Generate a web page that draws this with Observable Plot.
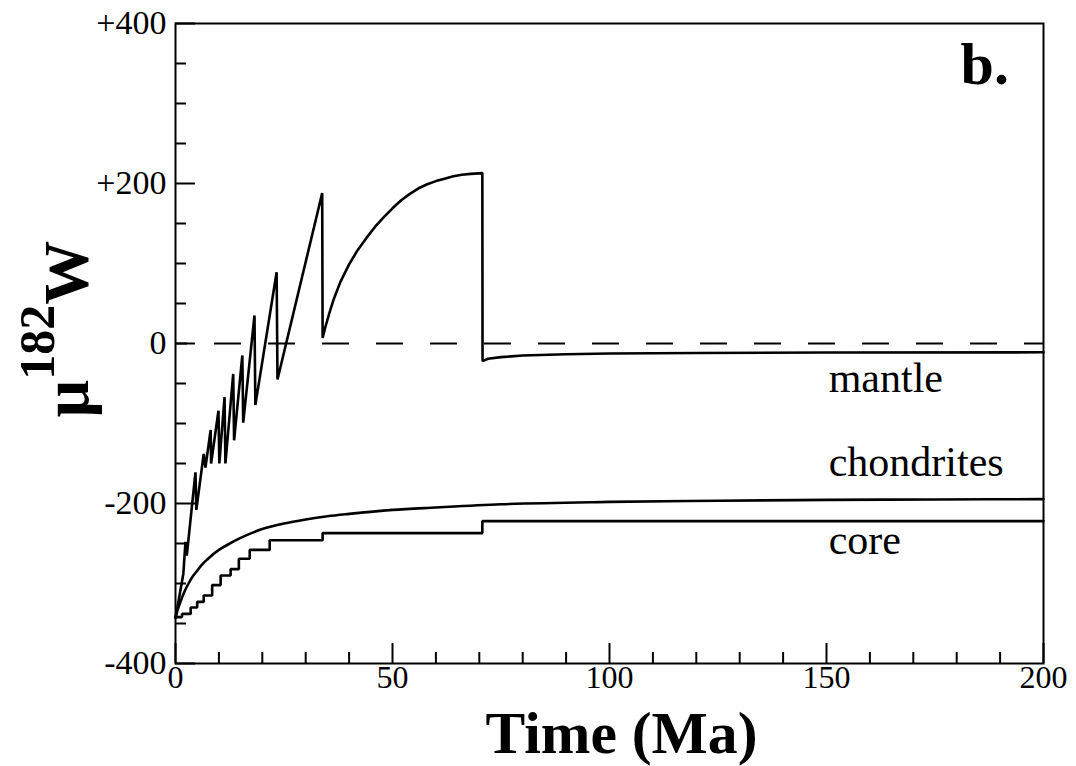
<!DOCTYPE html>
<html><head><meta charset="utf-8">
<script src="https://cdn.jsdelivr.net/npm/d3@7"></script>
<script src="https://cdn.jsdelivr.net/npm/@observablehq/plot@0.6"></script>
<style>body{margin:0;background:#fff}</style>
</head><body><div id="chart"></div>
<script>
// ---- data ----
const mantleT = [0, 1.8, 2.3, 2.6, 4.6, 4.8, 6.5, 6.9, 8.1, 8.2, 9.9, 10.1, 11.3, 11.5, 13.3, 13.5, 15.4, 15.6, 18.2, 18.4, 23.3, 23.5, 33.8, 33.9, 34.5, 35.5, 36.5, 38, 40, 42, 44, 46, 48, 50, 52, 54, 56, 58, 60, 62, 64, 66, 68, 70.7, 70.75, 72, 75, 80, 90, 100, 120, 150, 200];
const mantleV = [-343, -288, -248, -265, -161, -208, -138, -155, -108, -150, -84, -150, -67, -150, -38, -121, -15, -99, 35, -77, 89, -45, 188, 7, 20, 39, 56, 77, 99, 117, 132, 146, 158, 169, 179, 187, 194, 199, 203, 206, 209, 211, 212, 213, -22, -19, -17, -15, -13.5, -12.5, -11.8, -11.3, -11];

const chondT = [0, 0.5, 1, 2, 3, 4, 5, 6, 7.5, 10, 12.5, 15, 17.5, 20, 25, 30, 35, 40, 50, 60, 75, 100, 125, 150, 175, 200];
const chondV = [-343, -333, -325, -311, -300, -291, -284, -277, -269, -258, -250, -243, -237, -232, -225, -220, -216, -213, -208, -205, -201, -198, -196.5, -195.5, -195, -194.5];

const coreT = [0, 1.5, 3.5, 5.0, 6.5, 8.45, 10.4, 12.7, 14.6, 17.1, 21.7, 33.9, 70.7, 200];
const coreV = [-342, -338, -330, -323, -315, -302, -290, -282, -269, -258, -246, -237, -222, -222];

const xMajor = [0, 50, 100, 150, 200];
const xMinor = [10, 20, 30, 40, 60, 70, 80, 90, 110, 120, 130, 140, 160, 170, 180, 190];
const yMajor = [-400, -200, 0, 200, 400];
const yMinor = [-350, -300, -250, -150, -100, -50, 50, 100, 150, 250, 300, 350];

const seriesNames = ["mantle", "chondrites", "core"];
const seriesLabelX = [150.5, 150.5, 150.5];
const seriesLabelY = [-61, -165, -263];
const panelLabel = ["b."];
const panelLabelX = [180.9];
const panelLabelY = [325];
const xTitle = ["Time (Ma)"];

// ---- tables ----
const mantle = mantleT.map((t, i) => ({t, v: mantleV[i]}));
const chond = chondT.map((t, i) => ({t, v: chondV[i]}));
const core = coreT.map((t, i) => ({t, v: coreV[i]}));
const labels = seriesNames.map((name, i) => ({name, x: seriesLabelX[i], y: seriesLabelY[i]}));
const panel = panelLabel.map((name, i) => ({name, x: panelLabelX[i], y: panelLabelY[i]}));

const FONT = "'Liberation Serif', 'Times New Roman', serif";
const W = 1076, H = 766, ML = 175, MR = 33, MT = 23, MB = 103;
const FW = W - ML - MR, FH = H - MT - MB;

const chart = Plot.plot({
  width: W, height: H,
  marginLeft: ML, marginRight: MR, marginTop: MT, marginBottom: MB,
  x: {domain: [0, 200]},
  y: {domain: [-400, 400]},
  style: {fontFamily: FONT, fontSize: "33px", color: "#000", background: "#fff"},
  marks: [
    Plot.ruleY([0], {strokeDasharray: "27,27", strokeDashoffset: 15, strokeWidth: 2}),
    Plot.line(chond, {x: "t", y: "v", curve: "monotone-x", strokeWidth: 2.6}),
    Plot.line(core, {x: "t", y: "v", curve: "step-after", strokeWidth: 2.6, strokeLinejoin: "miter"}),
    Plot.line(mantle, {x: "t", y: "v", strokeWidth: 2.6, strokeLinejoin: "miter"}),
    Plot.tickX(xMinor, {x: d => d, insetTop: FH - 11, strokeWidth: 2}),
    Plot.tickX(xMajor, {x: d => d, insetTop: FH - 20, strokeWidth: 2}),
    Plot.tickY(yMinor, {y: d => d, insetRight: FW - 11, strokeWidth: 2}),
    Plot.tickY(yMajor, {y: d => d, insetRight: FW - 20, strokeWidth: 2}),
    Plot.frame({strokeWidth: 2}),
    Plot.axisX(xMajor, {tickSize: 0, tickPadding: 2, fontSize: 32, label: null}),
    Plot.axisY(yMajor, {tickSize: 0, tickPadding: 9, fontSize: 34, label: null,
      tickFormat: d => d > 0 ? "+" + d : String(d)}),
    Plot.text(labels, {x: "x", y: "y", text: "name", textAnchor: "start", lineAnchor: "bottom", fontSize: 42}),
    Plot.text(panel, {x: "x", y: "y", text: "name", textAnchor: "start", lineAnchor: "bottom", fontSize: 60, fontWeight: "bold"}),
    Plot.text(xTitle, {frameAnchor: "bottom", dy: 89, dx: 12, lineAnchor: "bottom", fontSize: 60, fontWeight: "bold"})
  ]
});
document.getElementById("chart").appendChild(chart);

// condense the x-axis title to the reference's narrow letterforms
d3.select(chart).selectAll("text").filter(function() { return this.textContent === xTitle[0]; })
  .attr("textLength", 272).attr("lengthAdjust", "spacingAndGlyphs");

// y-axis title with superscript
const svg = d3.select(chart);
const lab = svg.append("text")
  .attr("transform", `translate(88, ${MT + FH / 2 - 14}) rotate(-90)`)
  .attr("text-anchor", "middle")
  .attr("font-family", FONT)
  .attr("font-weight", "bold")
  .attr("fill", "#000");
lab.append("tspan").attr("font-size", 66).text("μ");
lab.append("tspan").attr("font-size", 50).attr("dy", -34).text("182");
lab.append("tspan").attr("font-size", 64).attr("dy", 34).text("W");
</script>
</body></html>
